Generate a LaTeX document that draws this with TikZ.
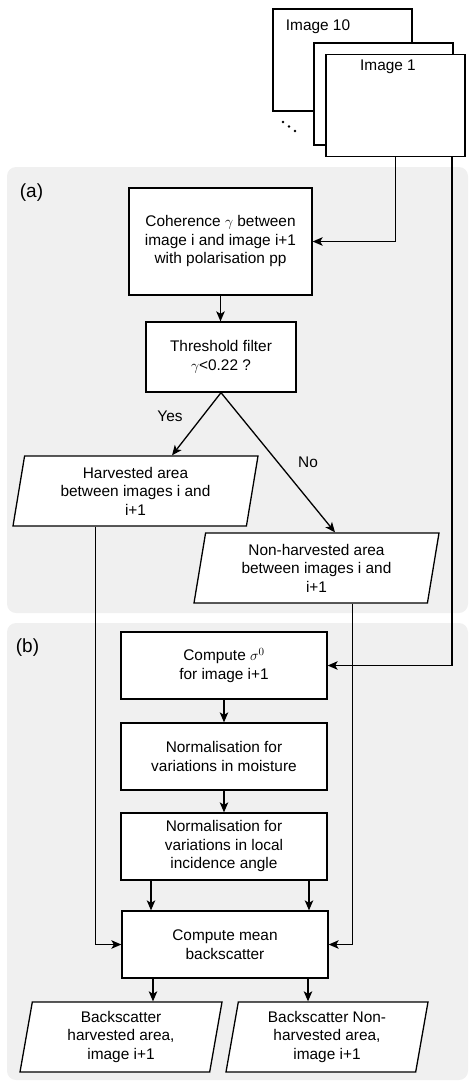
\documentclass[tikz,border=0pt]{standalone}
\usepackage{fontspec}
\setmainfont{Liberation Sans}
\usetikzlibrary{shapes.geometric, arrows.meta}

\begin{document}
\begin{tikzpicture}[x=1pt, y=-1pt, line width=1.3pt,
		font=\fontsize{15.4}{18.5}\selectfont,
		box/.style={draw, fill=white, align=center, minimum width=206pt, minimum height=67pt, inner sep=2pt},
		para/.style={draw, fill=white, align=center, trapezium, trapezium left angle=77, trapezium right angle=103,
			trapezium stretches body, minimum height=70pt, inner sep=1pt},
		img/.style={draw, fill=white, minimum width=139pt, minimum height=102pt},
		arr/.style={-{Stealth[length=10pt, width=8.5pt, inset=2.5pt]}},
		panel/.style={fill=black!6, rounded corners=9pt},
		tag/.style={font=\fontsize{19}{22}\selectfont}]
		\useasboundingbox (0,0) rectangle (469,1082);

		% grey panels
		\fill[panel] (7,167) rectangle (468,613);
		\fill[panel] (7,623) rectangle (468,1080);
		\node[tag] (taga) at (31.5,193) {(a)};
		\node[tag] (tagb) at (27.5,648) {(b)};

		% stack of images
		\node[img] (img10) at (342.5,60) {};
		\node[img] (img5) at (383.5,94) {};
		\node[img] (img1) at (395.5,105.5) {};
		\node (t10) at (318,27) {Image 10};
		\node (t1) at (388,67) {Image 1};
		\foreach \p in {(283,122),(289,126.5),(295,131)}
			\fill \p circle (1.4pt);

		% part (a)
		\node[box, minimum width=183pt, minimum height=107pt] (coh) at (220.5,241.5) {Coherence $\gamma$ between\\image i and image i+1\\with polarisation pp};
		\node[box, minimum width=150pt, minimum height=70pt] (thr) at (221,357) {Threshold filter\\$\gamma$<0.22 ?};
		\node[para, minimum width=245pt] (harv) at (135.5,491) {Harvested area\\between images i and\\i+1};
		\node[para, minimum width=245pt] (nonharv) at (316.5,568) {Non-harvested area\\between images i and\\i+1};
		\node (yes) at (170,416) {Yes};
		\node (no) at (308,462) {No};

		% part (b)
		\node[box] (sig) at (224,665.5) {Compute $\sigma^0$\\for image i+1};
		\node[box] (moist) at (224,756.5) {Normalisation for\\variations in moisture};
		\node[box] (inc) at (224,846.5) {Normalisation for\\variations in local\\incidence angle};
		\node[box] (mean) at (225,944.5) {Compute mean\\backscatter};
		\node[para, minimum width=202pt] (bsh) at (121,1037) {Backscatter\\harvested area,\\image i+1};
		\node[para, minimum width=202pt] (bsn) at (327,1037) {Backscatter Non-\\harvested area,\\image i+1};

		\draw[arr] (img1.south) |- (coh.east);
		\draw[arr] ([xshift=56.5]img1.south) |- (sig.east);
		\draw[arr] (coh.south) -- (coh.south |- thr.north);
		\draw[arr] (thr.south) -- ([xshift=148]harv.top left corner);
		\draw[arr] (thr.south) -- ([xshift=130]nonharv.top left corner);
		\draw[arr] (sig) -- (moist);
		\draw[arr] (moist) -- (inc);
		\draw[arr] ([xshift=-73]inc.south) -- ([xshift=-73]inc.south |- mean.north);
		\draw[arr] ([xshift=85]inc.south) -- ([xshift=85]inc.south |- mean.north);
		\draw[arr] ([xshift=83]harv.bottom left corner) |- (mean.west);
		\draw[arr] ([xshift=159]nonharv.bottom left corner) |- (mean.east);
		\draw[arr] ([xshift=-72]mean.south) -- ([xshift=-72]mean.south |- bsh.north);
		\draw[arr] ([xshift=83]mean.south) -- ([xshift=83]mean.south |- bsn.north);
	\end{tikzpicture}
\end{document}
